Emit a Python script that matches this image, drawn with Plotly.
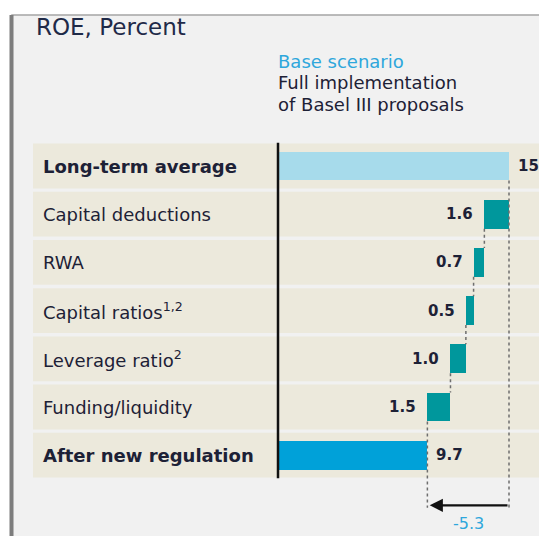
import plotly.graph_objects as go

# ROE waterfall: long-term average down to after new regulation
categories = ["Long-term average", "Capital deductions", "RWA",
              "Capital ratios<sup>1,2</sup>", "Leverage ratio<sup>2</sup>",
              "Funding/liquidity", "After new regulation"]
bold_rows = [True, False, False, False, False, False, True]
start_value = 15.0
impacts = [1.6, 0.7, 0.5, 1.0, 1.5]
end_value = 9.7
total_change = -5.3
value_labels = ["15", "1.6", "0.7", "0.5", "1.0", "1.5", "9.7"]

W, H = 539, 536
X0_PX, PX_PER_UNIT = 278, 15.4
ROW0_PX, ROW_PITCH = 166, 48.2

# waterfall bases / lengths
bases, lengths = [0.0], [start_value]
level = start_value
for d in impacts:
    level = round(level - d, 2)
    bases.append(level)
    lengths.append(d)
bases.append(0.0)
lengths.append(end_value)
rows = list(range(len(categories)))
colors = ["#a7dbeb"] + ["#00979c"] * len(impacts) + ["#00a1d9"]

fig = go.Figure()
fig.add_trace(go.Bar(y=rows, x=lengths, base=bases, orientation="h",
                     marker=dict(color=colors, line_width=0), width=0.6,
                     hoverinfo="skip", showlegend=False))

shapes = []
# frame
shapes.append(dict(type="rect", xref="paper", yref="paper", x0=12 / W, x1=1.2,
                   y0=-0.2, y1=1 - 15 / H, fillcolor="#f1f1f1",
                   line=dict(color="#a5a5a5", width=1.5), layer="below"))
shapes.append(dict(type="line", xref="paper", yref="paper", x0=11.5 / W, x1=11.5 / W,
                   y0=-0.2, y1=1 - 15 / H, line=dict(color="#7d7d7d", width=4),
                   layer="below"))
# row bands
for r in rows:
    shapes.append(dict(type="rect", xref="paper", yref="y", x0=33 / W, x1=1,
                       y0=r - 0.465, y1=r + 0.465, fillcolor="#ece9dc",
                       line_width=0, layer="below"))
# axis line
shapes.append(dict(type="line", xref="x", yref="y", x0=0, x1=0,
                   y0=-0.48, y1=rows[-1] + 0.48, line=dict(color="#111111", width=2.5)))
dot = dict(color="#6e6e6e", width=1.5, dash="dot")
# connectors between steps
for i in range(1, len(impacts)):
    shapes.append(dict(type="line", xref="x", yref="y", x0=bases[i], x1=bases[i],
                       y0=i + 0.3, y1=i + 0.7, line=dot))
arrow_y = rows[-1] + 1.04
shapes.append(dict(type="line", xref="x", yref="y", x0=start_value, x1=start_value,
                   y0=0.3, y1=arrow_y + 0.05, line=dot))
shapes.append(dict(type="line", xref="x", yref="y", x0=end_value, x1=end_value,
                   y0=rows[-2] + 0.3, y1=arrow_y + 0.05, line=dot))

FONT = "DejaVu Sans"
DARK = "#1d2136"
ann = []
ann.append(dict(text="ROE, Percent", xref="paper", yref="paper", x=34 / W, y=1 - 27 / H,
                xanchor="left", yanchor="middle", showarrow=False,
                font=dict(family=FONT, size=23, color="#1f2a48")))
legend_lines = [("Base scenario", "#2ea7dc", 61), ("Full implementation", DARK, 82.5),
                ("of Basel III proposals", DARK, 104)]
for txt, col, py in legend_lines:
    ann.append(dict(text=txt, xref="paper", yref="paper", x=276 / W, y=1 - py / H,
                    xanchor="left", yanchor="middle", showarrow=False,
                    font=dict(family=FONT, size=18, color=col)))
for r, name in zip(rows, categories):
    ann.append(dict(text=f"<b>{name}</b>" if bold_rows[r] else name,
                    xref="paper", yref="y", x=41 / W, y=r, xanchor="left",
                    yanchor="middle", showarrow=False,
                    font=dict(family=FONT, size=18, color=DARK)))
for r in rows:
    if r in (0, rows[-1]):
        ann.append(dict(text=f"<b>{value_labels[r]}</b>", x=bases[r] + lengths[r], y=r,
                        xanchor="left", yanchor="middle", xshift=7, showarrow=False,
                        font=dict(family=FONT, size=15, color=DARK)))
    else:
        ann.append(dict(text=f"<b>{value_labels[r]}</b>", x=bases[r], y=r,
                        xanchor="right", yanchor="middle", xshift=-9, showarrow=False,
                        font=dict(family=FONT, size=15, color=DARK)))
# total change arrow
ann.append(dict(x=end_value + 0.15, y=arrow_y, ax=start_value, ay=arrow_y,
                xref="x", yref="y", axref="x", ayref="y", text="", showarrow=True,
                arrowhead=2, arrowsize=1.2, arrowwidth=2.2, arrowcolor="#111111"))
ann.append(dict(text=f"{total_change:.1f}", x=(start_value + end_value) / 2, y=arrow_y + 0.38,
                showarrow=False, xanchor="center", yanchor="middle",
                font=dict(family=FONT, size=16, color="#2ea7dc")))

fig.update_layout(
    width=W, height=H, margin=dict(l=0, r=0, t=0, b=0),
    paper_bgcolor="white", plot_bgcolor="rgba(0,0,0,0)",
    shapes=shapes, annotations=ann, bargap=0,
    xaxis=dict(range=[-X0_PX / PX_PER_UNIT, (W - X0_PX) / PX_PER_UNIT], visible=False,
               fixedrange=True),
    yaxis=dict(range=[(H - ROW0_PX) / ROW_PITCH, -ROW0_PX / ROW_PITCH], visible=False,
               fixedrange=True),
)

# drop the default page margin so the chart sits at the window corner
fig.write_html("out.html", config={"displayModeBar": False},
               post_script="document.body.style.margin='0';document.body.style.overflow='hidden';")
